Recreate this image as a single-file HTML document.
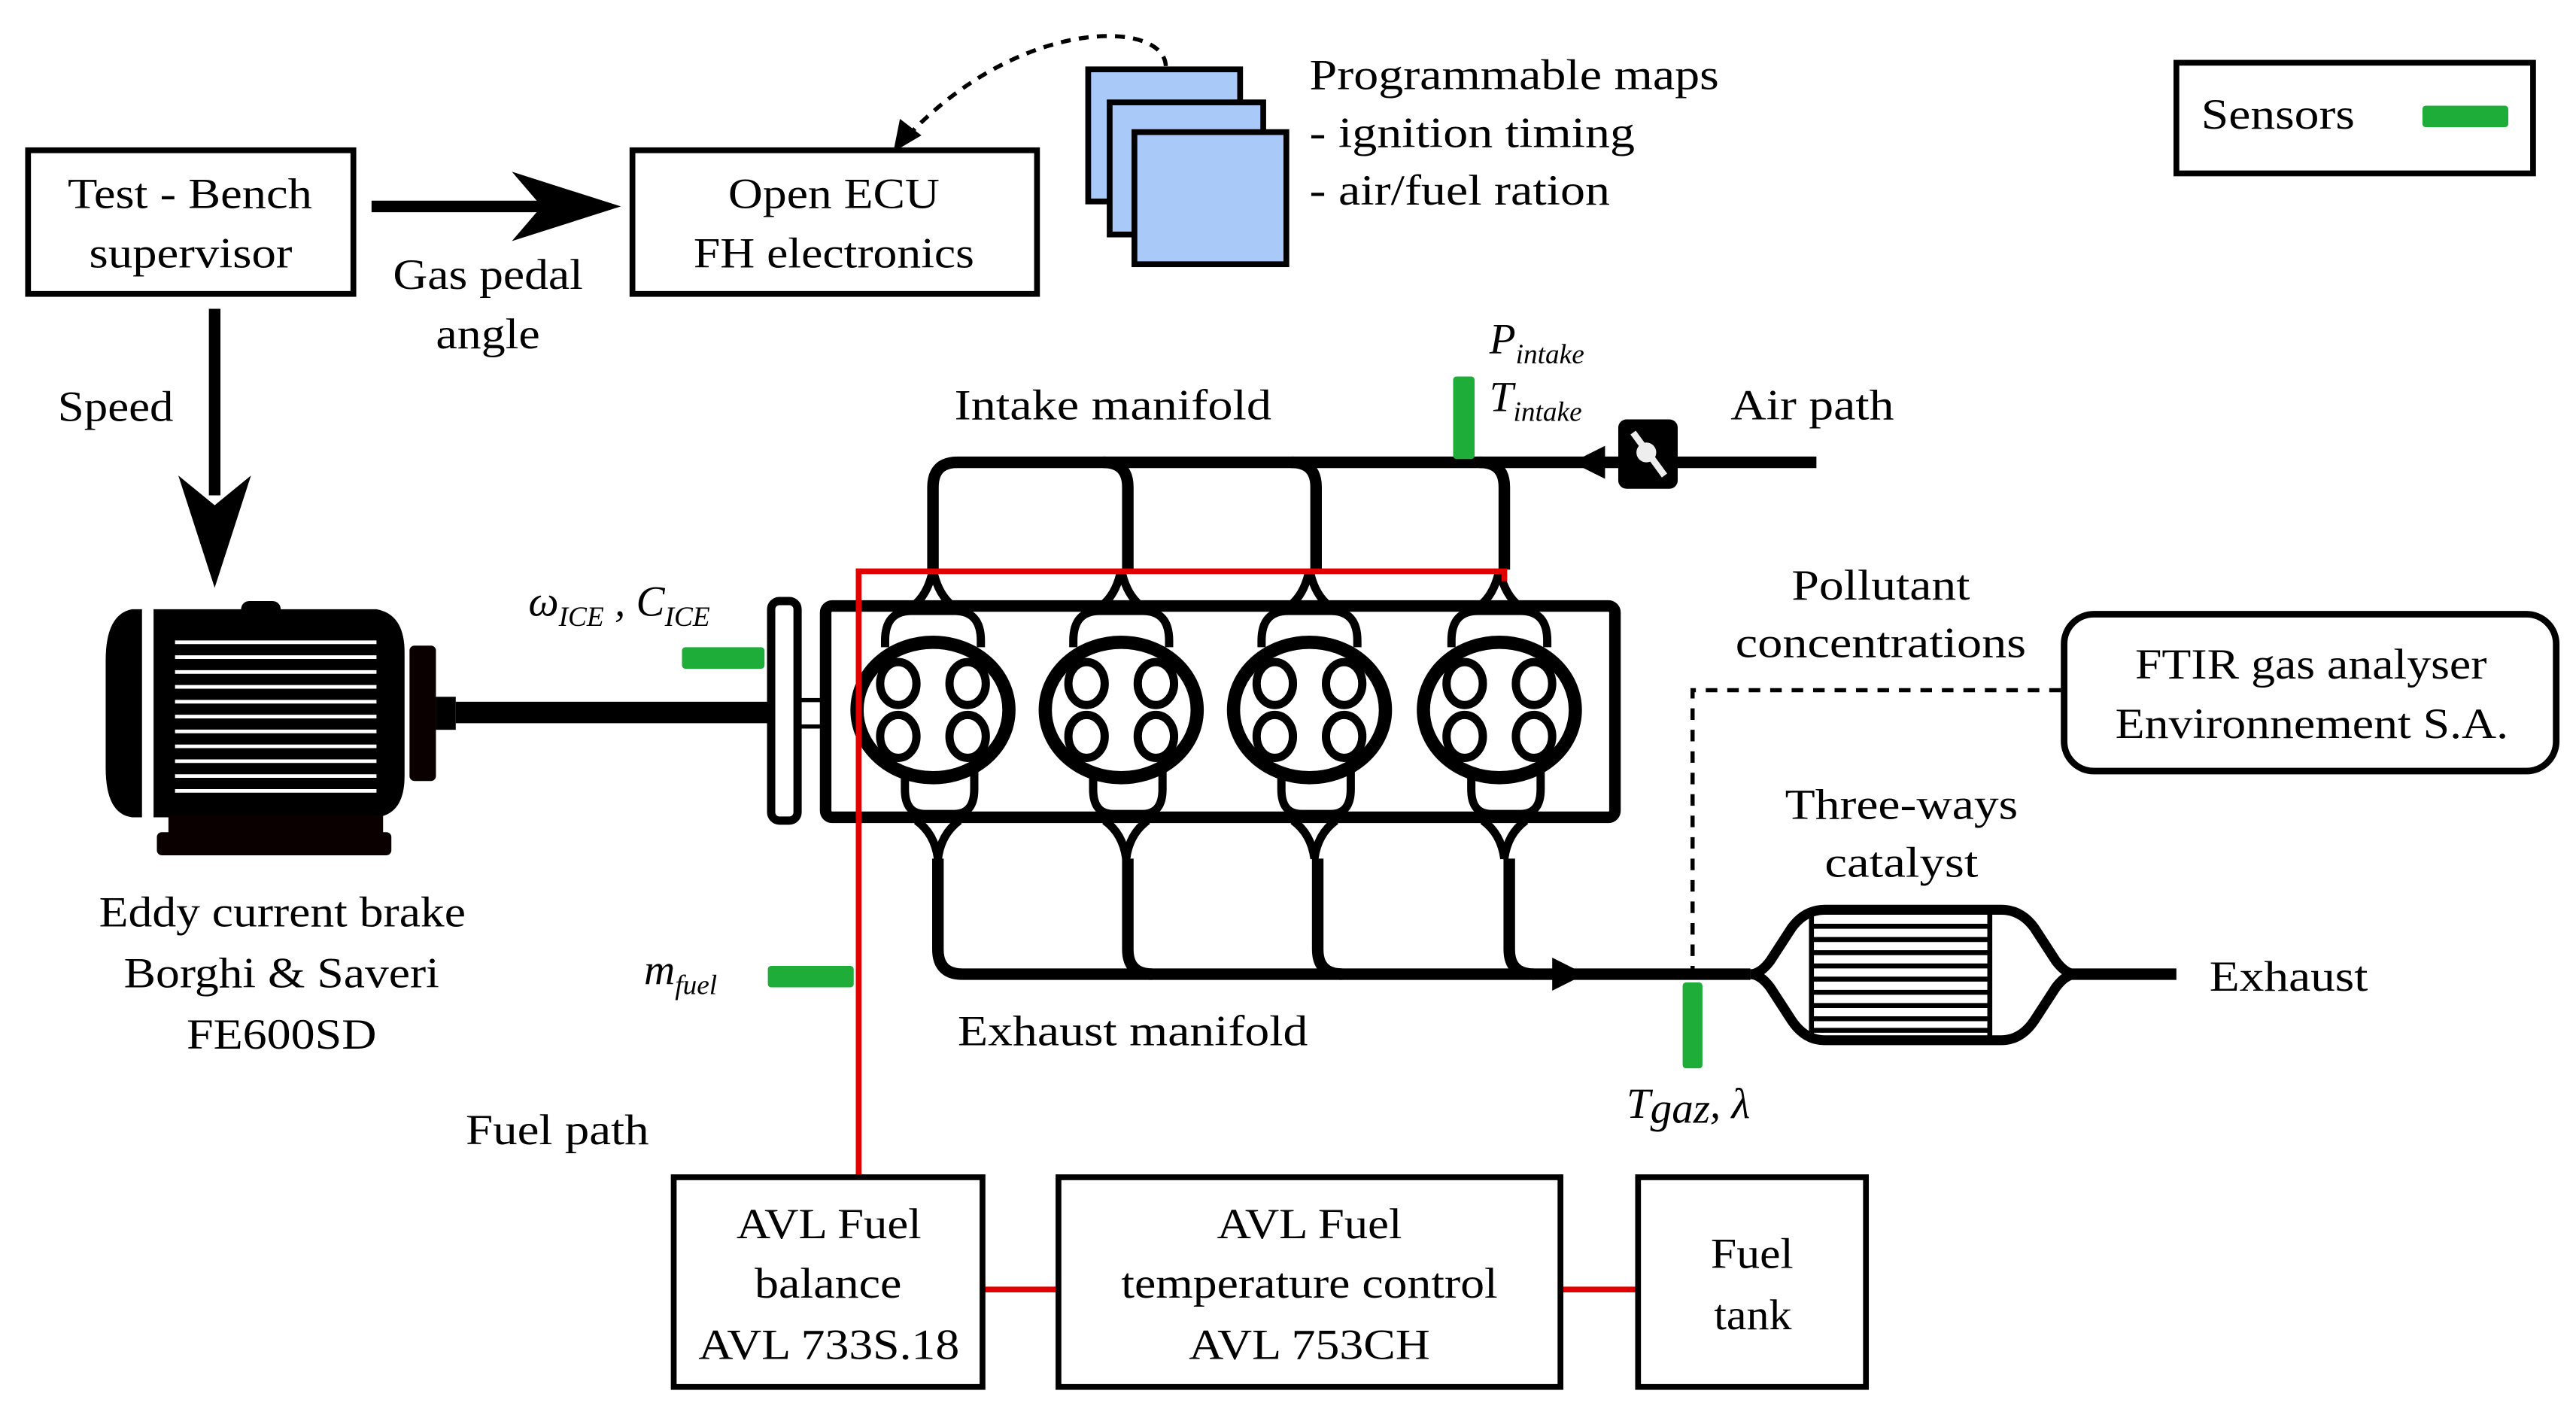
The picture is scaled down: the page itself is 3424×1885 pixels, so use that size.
<!DOCTYPE html>
<html><head><meta charset="utf-8"><style>html,body{margin:0;padding:0;background:#fff}svg{display:block}</style></head>
<body>
<svg width="3424" height="1885" viewBox="0 0 1560 858.8" xmlns="http://www.w3.org/2000/svg" font-family="'Liberation Serif', serif" font-size="26">
<rect width="1560" height="859" fill="#fff"/>
<!-- Test bench -->
<rect x="17" y="91" width="197" height="87" fill="none" stroke="#000" stroke-width="3.5"/>
<text x="41" y="126" textLength="148" lengthAdjust="spacingAndGlyphs">Test - Bench</text>
<text x="54" y="162" textLength="123" lengthAdjust="spacingAndGlyphs">supervisor</text>
<line x1="225" y1="125" x2="330" y2="125" stroke="#000" stroke-width="7"/>
<path d="M310,104 L376,125 L310,146 L328,125 z" fill="#000"/>
<text x="238" y="175" textLength="115" lengthAdjust="spacingAndGlyphs">Gas pedal</text>
<text x="264" y="211" textLength="63" lengthAdjust="spacingAndGlyphs">angle</text>
<!-- ECU -->
<rect x="383" y="91" width="245" height="87" fill="none" stroke="#000" stroke-width="3.5"/>
<text x="441" y="126" textLength="128" lengthAdjust="spacingAndGlyphs">Open ECU</text>
<text x="420" y="162" textLength="170" lengthAdjust="spacingAndGlyphs">FH electronics</text>
<!-- maps -->
<rect x="659" y="42" width="92" height="80" fill="#a9c9f9" stroke="#000" stroke-width="3.5"/>
<rect x="672" y="62" width="93" height="80" fill="#a9c9f9" stroke="#000" stroke-width="3.5"/>
<rect x="687" y="80" width="92" height="80" fill="#a9c9f9" stroke="#000" stroke-width="3.5"/>
<path d="M706,40 C705,12 620,10 552,80" fill="none" stroke="#000" stroke-width="2.5" stroke-dasharray="6,5"/>
<path d="M541,92 L545,72 L558,82 z" fill="#000"/>
<text x="793" y="54" textLength="248" lengthAdjust="spacingAndGlyphs">Programmable maps</text>
<text x="793" y="89" textLength="197" lengthAdjust="spacingAndGlyphs">- ignition timing</text>
<text x="793" y="124" textLength="182" lengthAdjust="spacingAndGlyphs">- air/fuel ration</text>
<!-- sensors legend -->
<rect x="1318" y="38" width="216" height="67" fill="none" stroke="#000" stroke-width="3.5"/>
<text x="1333" y="78" textLength="93" lengthAdjust="spacingAndGlyphs">Sensors</text>
<rect x="1467" y="64" width="52" height="13" rx="2" fill="#1fad3a"/>
<!-- speed -->
<line x1="130" y1="187" x2="130" y2="300" stroke="#000" stroke-width="7"/>
<path d="M108,288 L130,356 L152,288 L130,306 z" fill="#000"/>
<text x="35" y="255" textLength="70" lengthAdjust="spacingAndGlyphs">Speed</text>
<!-- motor -->
<path d="M86,369 L80,369 Q64,372 64,400 L64,465 Q64,493 80,495 L86,495 z" fill="#000"/>
<path d="M93,369 L228,369 Q245,372 245,395 L245,470 Q245,493 228,495 L93,495 z" fill="#000"/>
<rect x="146" y="364" width="24" height="10" rx="5" fill="#000"/>
<g stroke="#fff" stroke-width="2.2">
<line x1="106" y1="389" x2="228" y2="389"/><line x1="106" y1="398" x2="228" y2="398"/><line x1="106" y1="407" x2="228" y2="407"/><line x1="106" y1="416" x2="228" y2="416"/><line x1="106" y1="425" x2="228" y2="425"/><line x1="106" y1="434" x2="228" y2="434"/><line x1="106" y1="443" x2="228" y2="443"/><line x1="106" y1="452" x2="228" y2="452"/><line x1="106" y1="461" x2="228" y2="461"/><line x1="106" y1="470" x2="228" y2="470"/><line x1="106" y1="479" x2="228" y2="479"/>
</g>
<rect x="102" y="494" width="130" height="12" fill="#0a0000"/>
<rect x="95" y="504" width="142" height="14" rx="3" fill="#0a0000"/>
<rect x="248" y="391" width="16" height="82" rx="3" fill="#0a0000"/>
<rect x="264" y="422" width="12" height="20" fill="#000"/>
<rect x="276" y="425" width="190" height="13" fill="#000"/>
<rect x="467" y="364" width="16" height="133" rx="5" fill="none" stroke="#000" stroke-width="5"/>
<rect x="483" y="424" width="17" height="16" fill="none" stroke="#000" stroke-width="2.5"/>
<rect x="413" y="392" width="50" height="13" rx="2" fill="#1fad3a"/>
<text x="320" y="373" font-style="italic">ω<tspan font-size="17" dy="6">ICE</tspan><tspan dy="-6"> , C</tspan><tspan font-size="17" dy="6">ICE</tspan></text>
<text x="60" y="561" textLength="222" lengthAdjust="spacingAndGlyphs">Eddy current brake</text>
<text x="75" y="598" textLength="191" lengthAdjust="spacingAndGlyphs">Borghi &amp; Saveri</text>
<text x="113" y="635" textLength="115" lengthAdjust="spacingAndGlyphs">FE600SD</text>
<!-- engine block -->
<rect x="500" y="367" width="478" height="128" rx="4" fill="none" stroke="#000" stroke-width="7"/>
<g fill="none" stroke="#000" stroke-width="7">
<path d="M565,345 L565,295 Q565,280 580,280 L1100,280"/>
<path d="M668,280 Q683,280 683,295 L683,345"/>
<path d="M782,280 Q797,280 797,295 L797,345"/>
<path d="M896,280 Q911,280 911,295 L911,345"/>
<path d="M568,520 L568,575 Q568,590 583,590 L1060,590"/>
<path d="M683,520 L683,575 Q683,590 698,590"/>
<path d="M798,520 L798,575 Q798,590 813,590"/>
<path d="M914,520 L914,575 Q914,590 929,590"/>
<path d="M1250,590 L1318,590"/>
</g>
<path d="M940,580 L960,590 L940,600 z" fill="#000"/>
<path d="M972,270 L952,280 L972,290 z" fill="#000"/>
<!-- cylinders -->
<g id="cyl" fill="none" stroke="#000">
<path d="M553,367 Q562,360 565,345 Q568,360 577,367" stroke-width="5"/>
<path d="M536,392 L536,388 Q536,370 552,370 L578,370 Q594,370 594,388 L594,392" stroke-width="5"/>
<ellipse cx="565" cy="430" rx="46" ry="41" stroke-width="8"/>
<ellipse cx="544" cy="414" rx="11" ry="13" stroke-width="5"/>
<ellipse cx="586" cy="414" rx="11" ry="13" stroke-width="5"/>
<ellipse cx="544" cy="446" rx="11" ry="13" stroke-width="5"/>
<ellipse cx="586" cy="446" rx="11" ry="13" stroke-width="5"/>
<path d="M548,467 L548,478 Q548,493 560,493 L578,493 Q590,493 590,478 L590,467" stroke-width="5"/>
<path d="M555,497 Q566,505 568,520 Q570,505 581,497" stroke-width="5"/>
</g>
<use href="#cyl" transform="translate(114,0)"/>
<use href="#cyl" transform="translate(228,0)"/>
<use href="#cyl" transform="translate(343,0)"/>
<!-- throttle -->
<rect x="980" y="254" width="36" height="42" rx="5" fill="#000"/>
<line x1="989" y1="262" x2="1008" y2="288" stroke="#eee" stroke-width="4"/>
<circle cx="997" cy="274" r="6" fill="#eee"/>
<!-- sensors -->
<rect x="880" y="228" width="13" height="50" rx="2" fill="#1fad3a"/>
<rect x="1019" y="595" width="12" height="52" rx="2" fill="#1fad3a"/>
<rect x="465" y="585" width="52" height="13" rx="2" fill="#1fad3a"/>
<text x="902" y="214" font-style="italic">P<tspan font-size="17" dy="6">intake</tspan></text>
<text x="902" y="249" font-style="italic">T<tspan font-size="17" dy="6">intake</tspan></text>
<text x="390" y="596" font-style="italic">m<tspan font-size="17" dy="6">fuel</tspan></text>
<text x="985" y="677" font-style="italic">T<tspan dy="3">gaz</tspan><tspan dy="-3">, λ</tspan></text>
<!-- labels -->
<text x="578" y="254" textLength="192" lengthAdjust="spacingAndGlyphs">Intake manifold</text>
<text x="1048" y="254" textLength="99" lengthAdjust="spacingAndGlyphs">Air path</text>
<text x="580" y="633" textLength="212" lengthAdjust="spacingAndGlyphs">Exhaust manifold</text>
<text x="1085" y="363" textLength="108" lengthAdjust="spacingAndGlyphs">Pollutant</text>
<text x="1051" y="398" textLength="176" lengthAdjust="spacingAndGlyphs">concentrations</text>
<text x="1081" y="496" textLength="141" lengthAdjust="spacingAndGlyphs">Three-ways</text>
<text x="1105" y="531" textLength="93" lengthAdjust="spacingAndGlyphs">catalyst</text>
<text x="1338" y="600" textLength="96" lengthAdjust="spacingAndGlyphs">Exhaust</text>
<text x="282" y="693" textLength="111" lengthAdjust="spacingAndGlyphs">Fuel path</text>
<!-- FTIR -->
<rect x="1250" y="372" width="298" height="95" rx="18" fill="none" stroke="#000" stroke-width="4"/>
<text x="1293" y="411" textLength="213" lengthAdjust="spacingAndGlyphs">FTIR gas analyser</text>
<text x="1281" y="447" textLength="238" lengthAdjust="spacingAndGlyphs">Environnement S.A.</text>
<path d="M1025,592 L1025,418 L1248,418" fill="none" stroke="#000" stroke-width="2.5" stroke-dasharray="7,6"/>
<!-- catalyst -->
<path d="M1060,590 Q1066,590 1072,582 L1085,562 Q1093,551 1105,551 L1212,551 Q1224,551 1232,562 L1245,582 Q1251,590 1257,590 Q1251,590 1245,598 L1232,618 Q1224,630 1212,630 L1105,630 Q1093,630 1085,618 L1072,598 Q1066,590 1060,590 z" fill="none" stroke="#000" stroke-width="6"/>
<g stroke="#000" stroke-width="3">
<line x1="1097" y1="552" x2="1097" y2="628"/><line x1="1205" y1="552" x2="1205" y2="628"/>
<line x1="1097" y1="561" x2="1205" y2="561"/><line x1="1097" y1="569" x2="1205" y2="569"/><line x1="1097" y1="577" x2="1205" y2="577"/><line x1="1097" y1="585" x2="1205" y2="585"/><line x1="1097" y1="593" x2="1205" y2="593"/><line x1="1097" y1="601" x2="1205" y2="601"/><line x1="1097" y1="609" x2="1205" y2="609"/><line x1="1097" y1="617" x2="1205" y2="617"/><line x1="1097" y1="624" x2="1205" y2="624"/>
</g>
<!-- fuel red line -->
<path d="M520,712 L520,346 L911,346 L911,352" fill="none" stroke="#e00000" stroke-width="3.5"/>
<line x1="595" y1="781" x2="641" y2="781" stroke="#e00000" stroke-width="3.5"/>
<line x1="945" y1="781" x2="992" y2="781" stroke="#e00000" stroke-width="3.5"/>
<!-- bottom boxes -->
<rect x="408" y="713" width="187" height="127" fill="none" stroke="#000" stroke-width="3.5"/>
<text x="446" y="750" textLength="112" lengthAdjust="spacingAndGlyphs">AVL Fuel</text>
<text x="457" y="786" textLength="89" lengthAdjust="spacingAndGlyphs">balance</text>
<text x="423" y="823" textLength="158" lengthAdjust="spacingAndGlyphs">AVL 733S.18</text>
<rect x="641" y="713" width="304" height="127" fill="none" stroke="#000" stroke-width="3.5"/>
<text x="737" y="750" textLength="112" lengthAdjust="spacingAndGlyphs">AVL Fuel</text>
<text x="679" y="786" textLength="228" lengthAdjust="spacingAndGlyphs">temperature control</text>
<text x="720" y="823" textLength="146" lengthAdjust="spacingAndGlyphs">AVL 753CH</text>
<rect x="992" y="713" width="138" height="127" fill="none" stroke="#000" stroke-width="3.5"/>
<text x="1036" y="768" textLength="50" lengthAdjust="spacingAndGlyphs">Fuel</text>
<text x="1038" y="805" textLength="47" lengthAdjust="spacingAndGlyphs">tank</text>
</svg>
</body></html>
